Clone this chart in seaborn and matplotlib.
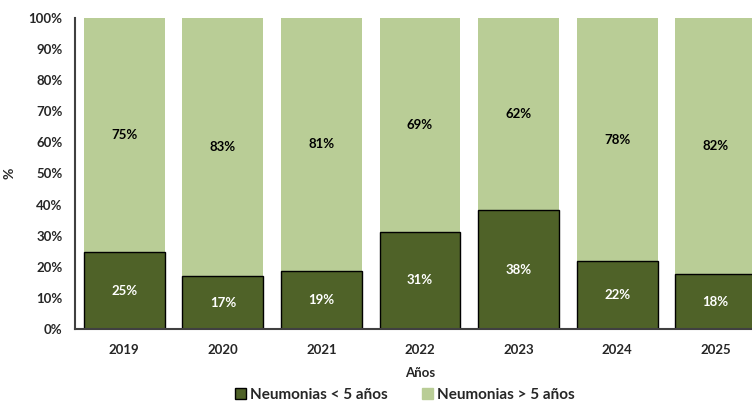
import matplotlib
matplotlib.use("Agg")
import matplotlib.pyplot as plt
from matplotlib.patches import Patch
from matplotlib.ticker import FixedLocator, PercentFormatter
import seaborn as sns
import pandas as pd

# datos
years = ["2019", "2020", "2021", "2022", "2023", "2024", "2025"]
menores_5 = [24.6, 17.0, 18.7, 31.2, 38.2, 21.8, 17.6]
mayores_5 = [75.4, 83.0, 81.3, 68.8, 61.8, 78.2, 82.4]
lbl_menores = ["25%", "17%", "19%", "31%", "38%", "22%", "18%"]
lbl_mayores = ["75%", "83%", "81%", "69%", "62%", "78%", "82%"]

dark = "#4F6228"
light = "#B9CD96"

df = pd.DataFrame({"year": years, "low": menores_5, "high": mayores_5})
df["total"] = df["low"] + df["high"]

sns.set_style("white")
plt.rcParams["font.family"] = ["Lato", "DejaVu Sans"]

fig = plt.figure(figsize=(7.52, 4.01), dpi=100)
# the plot area runs past the right edge in the original, so does this one
ax = fig.add_axes([75 / 752, 72 / 401, 690 / 752, 311 / 401])

# stacked bars: full height light bar, dark bar on top of it
sns.barplot(data=df, x="year", y="total", color=light, width=0.82,
            saturation=1, ax=ax, linewidth=0)
sns.barplot(data=df, x="year", y="low", color=dark, width=0.82,
            saturation=1, ax=ax, edgecolor="black", linewidth=1)

for i, row in df.iterrows():
    ax.text(i, row["low"] / 2, lbl_menores[i], ha="center", va="center",
            color="white", fontsize=9.5, fontweight="bold")
    ax.text(i, row["low"] + row["high"] / 2, lbl_mayores[i], ha="center",
            va="center", color="black", fontsize=9.5, fontweight="bold")

ax.set_xlim(-0.5, 6.5)
ax.set_ylim(0, 100)
ax.yaxis.set_major_locator(FixedLocator(range(0, 101, 10)))
ax.yaxis.set_major_formatter(PercentFormatter(decimals=0))

# ticks between categories on the x axis
ax.xaxis.set_minor_locator(FixedLocator([i - 0.5 for i in range(8)]))
ax.tick_params(axis="x", which="major", length=0, pad=11)
ax.tick_params(axis="x", which="minor", length=5, width=1.2, color="#404040", direction="out")
ax.tick_params(axis="y", length=5, width=1.2, color="#404040", direction="out", pad=4)

for lab in ax.get_xticklabels() + ax.get_yticklabels():
    lab.set_fontsize(9.5)
    lab.set_fontweight("bold")

for side in ["top", "right"]:
    ax.spines[side].set_visible(False)
for side in ["left", "bottom"]:
    ax.spines[side].set_color("#404040")
    ax.spines[side].set_linewidth(1.5)

ax.set_xlabel("Años", fontsize=9.5, fontweight="bold")
ax.xaxis.set_label_coords(0.5, -(367 - 329) / 311, transform=ax.transAxes)
ax.set_ylabel("%", fontsize=10, fontweight="bold")
ax.yaxis.set_label_coords(-(75 - 15) / 690, 0.5, transform=ax.transAxes)

handles = [Patch(facecolor=dark, edgecolor="black", label="Neumonias < 5 años"),
           Patch(facecolor=light, edgecolor=light, label="Neumonias > 5 años")]
fig.legend(handles=handles, loc="center", bbox_to_anchor=(405 / 752, 1 - 395 / 401),
           ncol=2, frameon=False, prop={"size": 11, "weight": "bold"},
           handlelength=0.7, handleheight=0.7, handletextpad=0.3, columnspacing=2.2)

fig.savefig("out.png", dpi=100)
